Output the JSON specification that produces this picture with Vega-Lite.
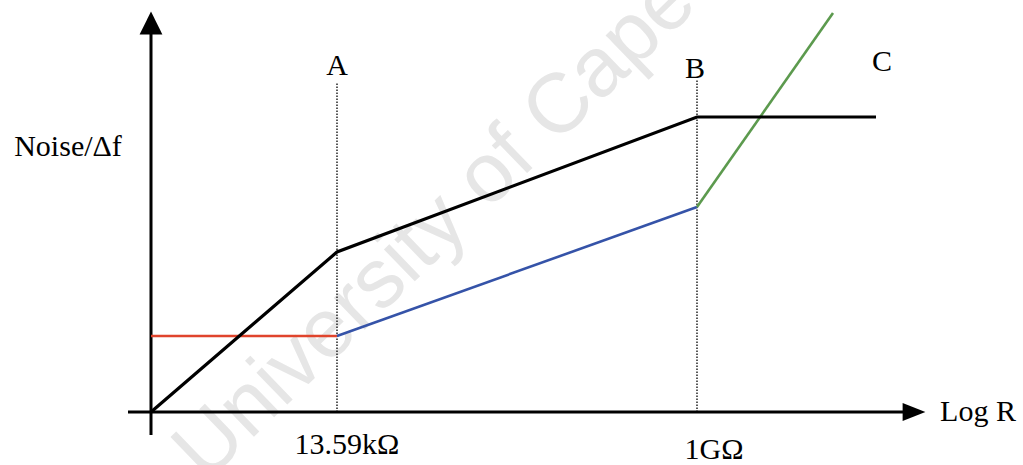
{
  "$schema": "https://vega.github.io/schema/vega-lite/v6.json",
  "width": 1023,
  "height": 465,
  "autosize": {"type": "none"},
  "padding": 0,
  "background": "white",
  "config": {"view": {"stroke": null}},
  "datasets": {
    "watermark": [{"x": 55, "y": -71, "label": "University of Cape Town"}],
    "axes": [
      {"id": "yaxis", "x": 0, "y": -23, "o": 1},
      {"id": "yaxis", "x": 0, "y": 380, "o": 2},
      {"id": "xaxis", "x": -23, "y": 0, "o": 1},
      {"id": "xaxis", "x": 754, "y": 0, "o": 2}
    ],
    "guides": [
      {"id": "A", "x": 186, "y": 0, "o": 1},
      {"id": "A", "x": 186, "y": 330, "o": 2},
      {"id": "B", "x": 546, "y": 0, "o": 1},
      {"id": "B", "x": 546, "y": 332, "o": 2}
    ],
    "curves": [
      {"series": "red", "x": 0, "y": 76, "o": 1},
      {"series": "red", "x": 186, "y": 76, "o": 2},
      {"series": "blue", "x": 186, "y": 76, "o": 1},
      {"series": "blue", "x": 546, "y": 205, "o": 2},
      {"series": "green", "x": 546, "y": 205, "o": 1},
      {"series": "green", "x": 682, "y": 399, "o": 2}
    ],
    "total": [
      {"x": 0, "y": 0, "o": 1},
      {"x": 186, "y": 160, "o": 2},
      {"x": 546, "y": 295, "o": 3},
      {"x": 725, "y": 295, "o": 4}
    ],
    "arrows": [
      {"id": "up", "x": 0, "y": 389},
      {"id": "right", "x": 763, "y": 0}
    ],
    "labels": [
      {"text": "A", "x": 186, "y": 346},
      {"text": "B", "x": 544, "y": 343},
      {"text": "C", "x": 731, "y": 350},
      {"text": "Noise/Δf", "x": -83, "y": 265},
      {"text": "13.59kΩ", "x": 196, "y": -33},
      {"text": "1GΩ", "x": 563, "y": -38},
      {"text": "Log R", "x": 827, "y": 0}
    ]
  },
  "encoding": {
    "x": {"field": "x", "type": "quantitative", "scale": {"domain": [-151, 872], "nice": false, "zero": false}, "axis": null},
    "y": {"field": "y", "type": "quantitative", "scale": {"domain": [-53, 412], "nice": false, "zero": false}, "axis": null}
  },
  "layer": [
    {
      "data": {"name": "watermark"},
      "mark": {"type": "text", "angle": -44, "align": "left", "baseline": "alphabetic", "fontSize": 84, "font": "Liberation Sans", "color": "#e6e6e6"},
      "encoding": {"text": {"field": "label"}}
    },
    {
      "data": {"name": "axes"},
      "mark": {"type": "line", "color": "black", "strokeWidth": 3},
      "encoding": {"detail": {"field": "id"}, "order": {"field": "o"}}
    },
    {
      "data": {"name": "guides"},
      "mark": {"type": "line", "color": "black", "strokeWidth": 1.3, "strokeDash": [1.5, 1.5]},
      "encoding": {"detail": {"field": "id"}, "order": {"field": "o"}}
    },
    {
      "data": {"name": "curves"},
      "mark": {"type": "line", "strokeWidth": 2.6},
      "encoding": {
        "color": {"field": "series", "type": "nominal", "scale": {"domain": ["red", "blue", "green"], "range": ["#e0442c", "#3553a8", "#5c9a4e"]}, "legend": null},
        "order": {"field": "o"}
      }
    },
    {
      "data": {"name": "total"},
      "mark": {"type": "line", "color": "black", "strokeWidth": 3.2},
      "encoding": {"order": {"field": "o"}}
    },
    {
      "data": {"name": "arrows"},
      "mark": {"type": "point", "filled": true, "opacity": 1, "color": "black", "size": 520},
      "encoding": {
        "shape": {"field": "id", "type": "nominal", "scale": {"domain": ["up", "right"], "range": ["M0,-1L1,1L-1,1Z", "M1,0L-1,-0.8L-1,0.8Z"]}, "legend": null}
      }
    },
    {
      "data": {"name": "labels"},
      "mark": {"type": "text", "align": "center", "baseline": "middle", "fontSize": 30, "font": "Liberation Serif", "color": "black"},
      "encoding": {"text": {"field": "text"}}
    }
  ]
}
